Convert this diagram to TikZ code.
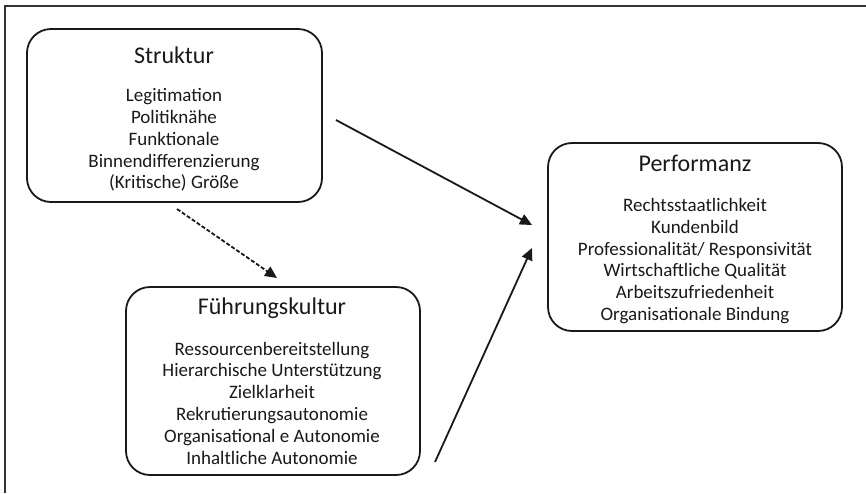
\documentclass[tikz,border=0pt]{standalone}
\usepackage{fontspec}
\setmainfont{Carlito}
\usetikzlibrary{arrows.meta}
\tikzset{
  box/.style={draw=black!90, line width=1.8pt, rounded corners=24pt, inner sep=0pt},
  title/.style={font=\fontsize{24}{28}\selectfont, inner sep=0pt, text=black!90},
  body/.style={font=\fontsize{19}{21.8}\selectfont, align=center, inner sep=0pt, text=black!90},
  conn/.style={line width=1.8pt, draw=black!90, -{Triangle[length=12pt,width=11pt]}},
  dconn/.style={conn, dash pattern=on 4pt off 2pt}
}
\begin{document}
\begin{tikzpicture}[x=1pt,y=-1pt]
\useasboundingbox (0,0) rectangle (866,493);
\draw[line width=2.2pt, black!80] (866,6) -- (5,6) -- (5,493);
% boxes
\node[box, minimum width=295pt, minimum height=173pt] (s) at (174.5,115.5) {};
\node[box, minimum width=294pt, minimum height=188pt] (f) at (273,381) {};
\node[box, minimum width=294pt, minimum height=188pt] (p) at (695,237) {};
% texts
\node[title] (st) at (174,55) {Struktur};
\node[body] (sb) at (174,140) {Legitimation\\Politiknähe\\Funktionale\\Binnendifferenzierung\\(Kritische) Größe};
\node[title] (ft) at (272,308) {Führungskultur};
\node[body] (fb) at (272,403) {Ressourcenbereitstellung\\Hierarchische Unterstützung\\Zielklarheit\\Rekrutierungsautonomie\\Organisational e Autonomie\\Inhaltliche Autonomie};
\node[title] (pt) at (695,163) {Performanz};
\node[body] (pb) at (695,261) {Rechtsstaatlichkeit\\Kundenbild\\Professionalität/ Responsivität\\Wirtschaftliche Qualität\\Arbeitszufriedenheit\\Organisationale Bindung};
% connector end points
\coordinate (a1s) at (336,120);
\coordinate (a1e) at (532,225);
\coordinate (a2s) at (435,462);
\coordinate (a2e) at (532,248);
\coordinate (a3s) at (177,209);
\coordinate (a3e) at (277,278);
\draw[conn] (a1s) -- (a1e);
\draw[conn] (a2s) -- (a2e);
\draw[dconn] (a3s) -- (a3e);
\end{tikzpicture}
\end{document}
